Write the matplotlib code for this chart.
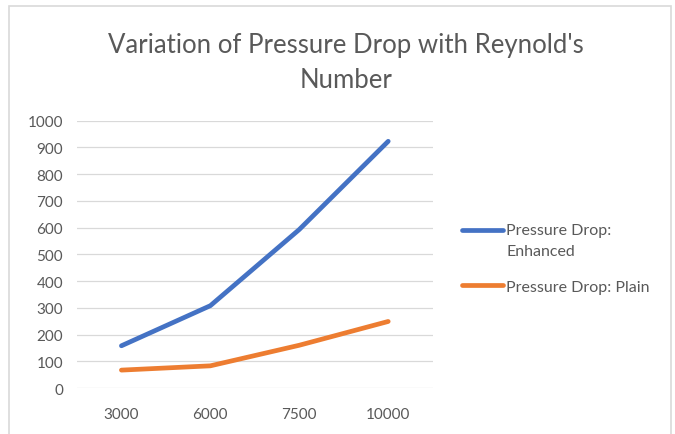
import matplotlib
matplotlib.use("Agg")
import matplotlib.pyplot as plt
from matplotlib.patches import Rectangle

# data
reynolds = ["3000", "6000", "7500", "10000"]
drop_enhanced = [158, 308, 593, 923]
drop_plain = [67, 83, 160, 249]
y_ticks = list(range(0, 1001, 100))

plt.rcParams["font.family"] = ["Lato", "DejaVu Sans"]
grey_text = "#595959"

fig = plt.figure(figsize=(6.75, 4.35), dpi=100)
ax = fig.add_axes([0.114, 0.1057, 0.527, 0.6145])

x = range(len(reynolds))
ax.plot(x, drop_enhanced, color="#4472C4", lw=3.4, solid_capstyle="round",
        solid_joinstyle="round", label="Pressure Drop:\nEnhanced", zorder=3)
ax.plot(x, drop_plain, color="#ED7D31", lw=3.4, solid_capstyle="round",
        solid_joinstyle="round", label="Pressure Drop: Plain", zorder=3)

ax.set_xlim(-0.5, len(reynolds) - 0.5)
ax.set_ylim(0, 1000)
ax.set_xticks(list(x))
ax.set_xticklabels(reynolds)
ax.set_yticks(y_ticks)
ax.grid(axis="y", color="#D9D9D9", lw=0.9)
ax.set_axisbelow(True)
for s in ax.spines.values():
    s.set_visible(False)
ax.tick_params(length=0, colors=grey_text, labelsize=11)
ax.tick_params(axis="x", pad=14)
ax.tick_params(axis="y", pad=10)

fig.text(0.513, 0.855, "Variation of Pressure Drop with Reynold's\nNumber",
         ha="center", va="center", fontsize=18.5, color=grey_text, linespacing=1.5)

leg = fig.legend(loc="upper left", bbox_to_anchor=(0.663, 0.517), frameon=False,
                 fontsize=11.5, labelcolor=grey_text, handlelength=2.55,
                 handletextpad=0.22, labelspacing=1.35)
leg.get_texts()[0].set_linespacing(1.6)
# put the handle level with the first text line
first = leg.get_lines()[0]
first.set_ydata([v + 8 for v in first.get_ydata()])

fig.add_artist(Rectangle((9 / 675, -0.1), 662 / 675, 1.1 - 7 / 435,
                         transform=fig.transFigure, fill=False,
                         edgecolor="#D9D9D9", lw=1.2))

fig.savefig("out.png", dpi=100)
